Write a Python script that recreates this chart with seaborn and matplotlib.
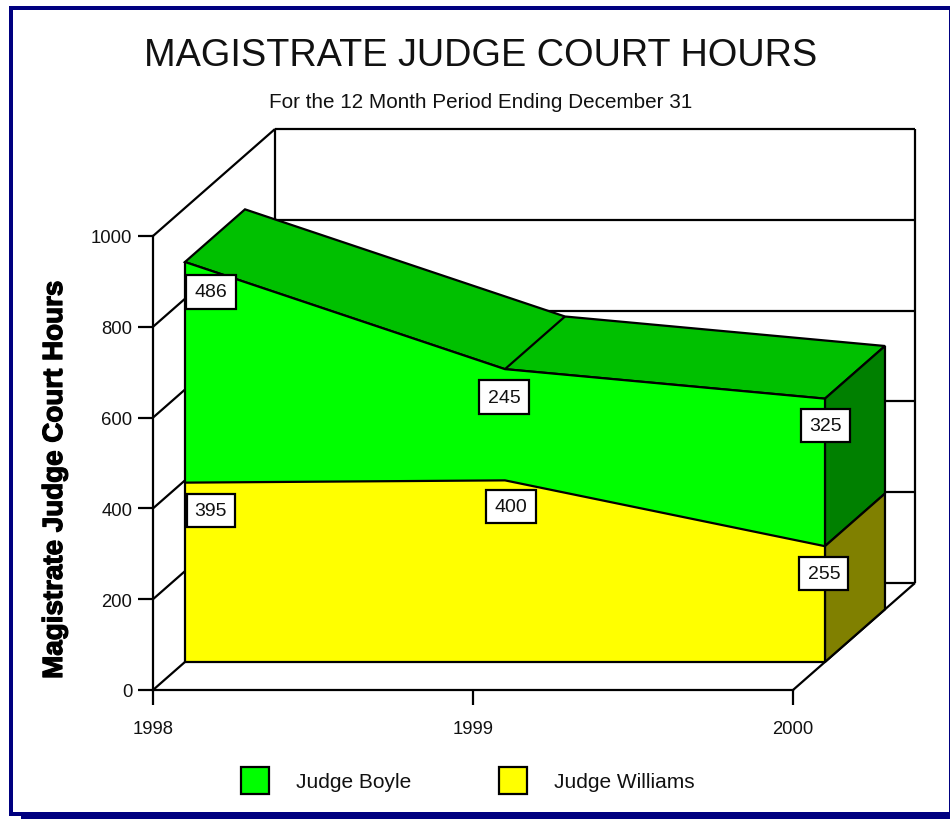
import matplotlib
matplotlib.use("Agg")
import matplotlib.pyplot as plt
import matplotlib.patheffects as pe
from matplotlib.patches import Patch, Rectangle
import numpy as np
import pandas as pd
import seaborn as sns

# Datos
years = [1998, 1999, 2000]
boyle = [486, 245, 325]
williams = [395, 400, 255]
y_ticks = [0, 200, 400, 600, 800, 1000]

title = "MAGISTRATE JUDGE COURT HOURS"
subtitle = "For the 12 Month Period Ending December 31"
ylabel = "Magistrate Judge Court Hours"

W, H = 950, 820
NAVY = "#000080"

sns.set_theme(style="white")
plt.rcParams["font.family"] = ["Liberation Sans", "DejaVu Sans"]

fig = plt.figure(figsize=(W / 100, H / 100), dpi=100, facecolor="white")
# el eje real ocupa la cara frontal del grafico 3D
ax = fig.add_axes([153 / W, 1 - 691 / H, 640 / W, 454 / H])
ax.set_xlim(1998, 2000)
ax.set_ylim(0, 1000)
ax.patch.set_alpha(0)

# profundidad total del falso 3D, en unidades de datos
DEPTH_X = 122 / 320
DEPTH_Y = 107 / 0.454
FRONT = 0.262
BACK = 0.754
LW = 1.6


def proj(x, y, d):
    x = np.asarray(x, dtype=float)
    y = np.asarray(y, dtype=float)
    return x + d * DEPTH_X, y + d * DEPTH_Y


def poly(xs, ys, color, z):
    ax.fill(xs, ys, facecolor=color, edgecolor="black", lw=LW, clip_on=False,
            zorder=z, joinstyle="miter")


def wall_line(xs, ys, z=1):
    ax.plot(xs, ys, color="black", lw=LW, clip_on=False, zorder=z,
            solid_capstyle="butt")


# Paredes y suelo
x0, x1 = years[0], years[-1]
for t in y_ticks:
    bx, by = proj(x0, t, 1)
    wall_line([x0, bx], [t, by])
    wall_line([bx, proj(x1, t, 1)[0]], [by, by])
bx, by = proj(x0, 0, 1)
wall_line([bx, bx], [by, by + 1000])
bx, by = proj(x1, 0, 1)
wall_line([bx, bx], [by, by + 1000])
wall_line([x1, bx], [0, by])

# Areas apiladas
base = np.zeros(len(years))
low = np.array(williams, dtype=float)
top = low + np.array(boyle, dtype=float)

fx, fbase = proj(years, base, FRONT)
_, flow = proj(years, low, FRONT)
_, ftop = proj(years, top, FRONT)
rx, rtop = proj(years, top, BACK)
_, rlow = proj(years, low, BACK)
_, rbase = proj(years, base, BACK)

# techo de Boyle y laterales derechos
poly(np.r_[fx, rx[::-1]], np.r_[ftop, rtop[::-1]], "#00C000", 3)
wall_line([fx[1], rx[1]], [ftop[1], rtop[1]], 4)
poly([fx[-1], rx[-1], rx[-1], fx[-1]], [flow[-1], rlow[-1], rtop[-1], ftop[-1]], "#008000", 3)
poly([fx[-1], rx[-1], rx[-1], fx[-1]], [fbase[-1], rbase[-1], rlow[-1], flow[-1]], "#808000", 3)

ax.fill_between(fx, flow, ftop, color="#00FF00", lw=0, clip_on=False, zorder=4)
ax.fill_between(fx, fbase, flow, color="#FFFF00", lw=0, clip_on=False, zorder=4)

# Contornos frontales con seaborn
df = pd.DataFrame({
    "x": np.r_[fx, fx, fx],
    "y": np.r_[fbase, flow, ftop],
    "serie": ["base"] * 3 + ["Judge Williams"] * 3 + ["Judge Boyle"] * 3,
})
sns.lineplot(data=df, x="x", y="y", hue="serie", estimator=None, sort=False,
             palette={"base": "black", "Judge Williams": "black", "Judge Boyle": "black"},
             lw=LW, legend=False, clip_on=False, zorder=5, ax=ax)
wall_line([fx[0], fx[0]], [fbase[0], ftop[0]], 5)
wall_line([fx[-1], fx[-1]], [fbase[-1], ftop[-1]], 5)

# Etiquetas de valores (desplazamiento en pixeles respecto a la cara frontal)
label_offsets = {
    "boyle": [(26, -30), (-1, -28), (1, -27)],
    "williams": [(26, -28), (6, -26), (-1, -27)],
}
for vals, ys, key in [(boyle, ftop, "boyle"), (williams, flow, "williams")]:
    for xi, yi, v, off in zip(fx, ys, vals, label_offsets[key]):
        ax.annotate(str(v), (xi, yi), xytext=off, textcoords="offset pixels",
                    ha="center", va="center", fontsize=14, color="#111111", zorder=7,
                    annotation_clip=False,
                    bbox=dict(boxstyle="square,pad=0.42", fc="white", ec="black", lw=LW))

# Ejes
sns.despine(ax=ax, top=True, right=True)
for s in ["left", "bottom"]:
    ax.spines[s].set_linewidth(LW)
    ax.spines[s].set_color("black")
    ax.spines[s].set_zorder(2)
ax.set_xticks(years)
ax.set_xticklabels([str(y) for y in years])
ax.set_yticks(y_ticks)
ax.tick_params(axis="both", which="major", direction="out", length=10.8, width=LW,
               color="black", labelsize=13.3, labelcolor="#111111",
               left=True, bottom=True)
ax.tick_params(axis="x", pad=11)
ax.tick_params(axis="y", pad=4)
ax.set_xlabel("")
ax.set_ylabel(ylabel, fontsize=20, fontweight="bold", color="black",
              path_effects=[pe.withStroke(linewidth=0.9, foreground="black")])
ax.yaxis.set_label_coords((68 - 153) / 640, (691 - 481) / 454)

# Titulos
fig.text(481 / W, 1 - 56 / H, title, ha="center", va="center", fontsize=27.3, color="#111111")
fig.text(480.5 / W, 1 - 102.5 / H, subtitle, ha="center", va="center", fontsize=14.9, color="#111111")

# Leyenda
handles = [Patch(facecolor="#00FF00", edgecolor="black", lw=LW, label="Judge Boyle"),
           Patch(facecolor="#FFFF00", edgecolor="black", lw=LW, label="Judge Williams")]
fig.legend(handles=handles, ncol=2, loc="lower left", frameon=False, fontsize=15,
           handlelength=1.35, handleheight=1.6, handletextpad=1.3, columnspacing=4.2,
           borderpad=0, borderaxespad=0, labelcolor="#111111",
           bbox_to_anchor=(241 / W, 1 - 795 / H))

# Marco azul
frame = [(9, 7, 4, 810), (9, 7, 941, 4), (21, 813, 929, 7), (9, 813, 12, 4), (949, 7, 1, 813)]
for x, y, w, h in frame:
    fig.add_artist(Rectangle((x / W, 1 - (y + h) / H), w / W, h / H, facecolor=NAVY,
                             edgecolor="none", transform=fig.transFigure))

fig.savefig("out.png", dpi=100)
